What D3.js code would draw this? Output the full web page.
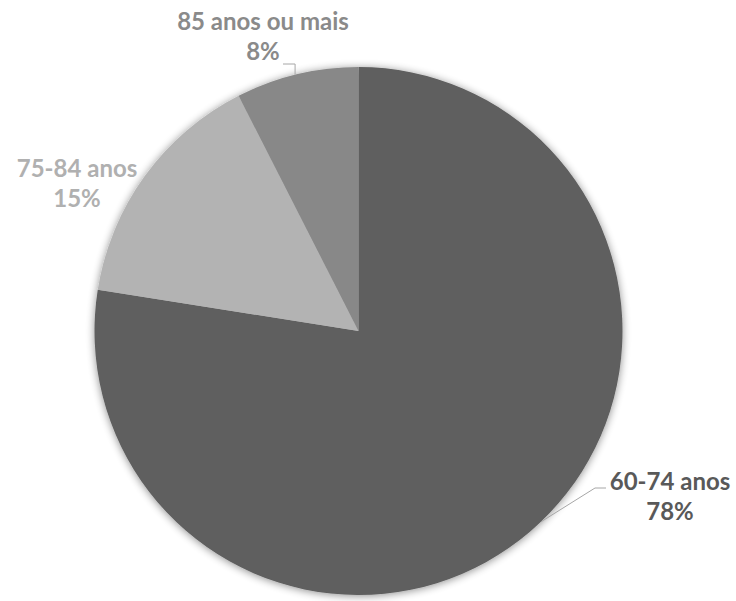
<!DOCTYPE html>
<html>
<head>
<meta charset="utf-8">
<script src="https://cdn.jsdelivr.net/npm/d3@7"></script>
<style>
  html, body { margin: 0; padding: 0; background: #ffffff; }
  svg { display: block; }
</style>
</head>
<body>
<svg id="chart" width="736" height="601"></svg>
<script>
// ---- data ----
const categories = ["60-74 anos", "75-84 anos", "85 anos ou mais"];
const values = [77.5, 15.0, 7.5];
const sliceColors = ["#5e5e5e", "#b3b3b3", "#888888"];
const labelColors = ["#595959", "#b0b0b0", "#8a8a8a"];

// ---- layout ----
const W = 736, H = 601;
const cx = 358.5, cy = 331, R = 264;
const fontFamily = "Lato, 'Open Sans', sans-serif";
const fontSize = 24;

const svg = d3.select("#chart");

const defs = svg.append("defs");
const f = defs.append("filter").attr("id", "shadow")
  .attr("x", "-10%").attr("y", "-10%").attr("width", "120%").attr("height", "120%");
f.append("feGaussianBlur").attr("in", "SourceAlpha").attr("stdDeviation", 4).attr("result", "b");
f.append("feOffset").attr("in", "b").attr("dx", 0).attr("dy", 1).attr("result", "o");
f.append("feComponentTransfer").attr("in", "o").attr("result", "o2")
  .append("feFuncA").attr("type", "linear").attr("slope", 0.45);
const m = f.append("feMerge");
m.append("feMergeNode").attr("in", "o2");
m.append("feMergeNode").attr("in", "SourceGraphic");

const data = categories.map((c, i) => ({ cat: c, value: values[i], i }));

const pie = d3.pie().sort(null).value(d => d.value).startAngle(0).endAngle(2 * Math.PI);
const arcs = pie(data);
const arc = d3.arc().innerRadius(0).outerRadius(R);

const g = svg.append("g").attr("transform", `translate(${cx},${cy})`);
g.append("g").attr("filter", "url(#shadow)")
  .selectAll("path").data(arcs).join("path")
  .attr("d", arc)
  .attr("fill", d => sliceColors[d.data.i]);

// point on the rim at angle a (radians, clockwise from 12 o'clock)
const rim = a => [R * Math.sin(a), -R * Math.cos(a)];

// label layout (relative to chart center)
const labelLayout = [
  { x: 670 - cx, y: 490 - cy, rimAngle: 136.3 * Math.PI / 180, elbow: [595 - cx, 488 - cy], end: [606 - cx, 488 - cy] },
  { x: 77 - cx, y: 177 - cy },
  { x: 263 - cx, y: 30 - cy, rimAngle: -13.9 * Math.PI / 180, elbow: [294.5 - cx, 64 - cy], end: [283 - cx, 64 - cy] }
];

const fmt = v => Math.round(v) + "%";

arcs.forEach(d => {
  const L = labelLayout[d.data.i];
  if (L.rimAngle !== undefined) {
    const p0 = rim(L.rimAngle);
    let elbow = L.elbow;
    if (d.data.i === 2) elbow = [p0[0], L.elbow[1]];
    g.append("polyline")
      .attr("points", [p0, elbow, L.end].map(p => p.join(",")).join(" "))
      .attr("fill", "none")
      .attr("stroke", "#a6a6a6")
      .attr("stroke-width", 1);
  }
  const t = g.append("text")
    .attr("text-anchor", "middle")
    .attr("font-family", fontFamily)
    .attr("font-weight", "bold")
    .attr("font-size", fontSize)
    .attr("fill", labelColors[d.data.i]);
  t.append("tspan").attr("x", L.x).attr("y", L.y).text(d.data.cat);
  t.append("tspan").attr("x", L.x).attr("y", L.y + 30).text(fmt(d.data.value));
});
</script>
</body>
</html>
